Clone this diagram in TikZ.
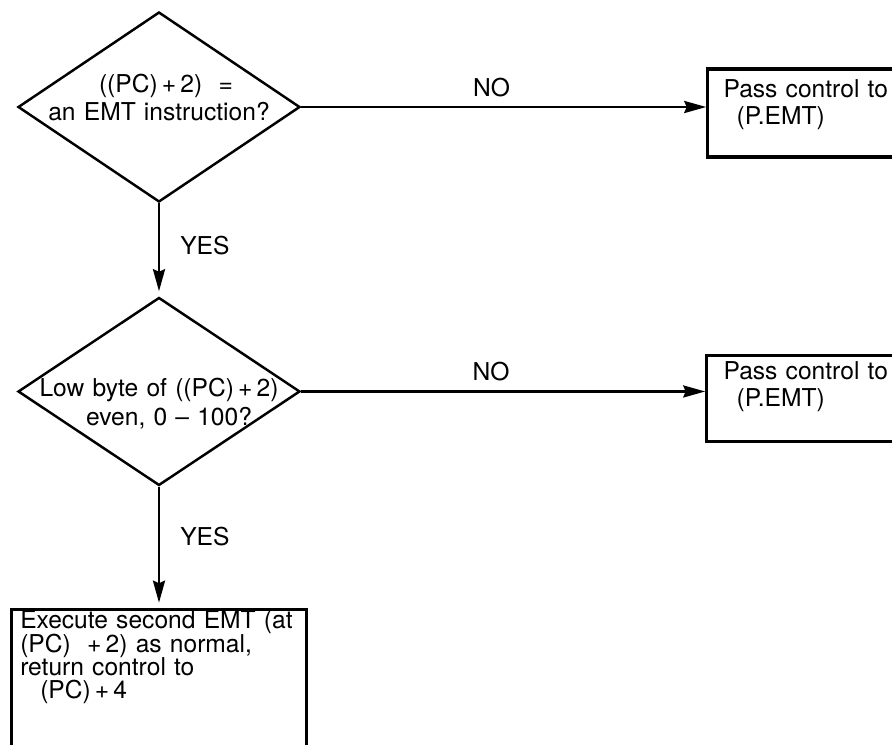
\documentclass[tikz,border=0pt]{standalone}
\usepackage{fontspec}
\setmainfont{TeX Gyre Heros}
\usepackage{tikz}
\usetikzlibrary{arrows.meta, positioning, shapes.geometric}

\begin{document}
\begin{tikzpicture}[
    decision/.style={draw, diamond, line width=1.4pt, minimum width=5.64cm, minimum height=3.8cm, inner sep=0pt},
    passbox/.style={draw, rectangle, line width=1.8pt, minimum width=4.8cm, minimum height=1.76cm, inner sep=0pt},
    leading/.style={execute at begin node={\setlength{\baselineskip}{#1}\setlength{\lineskiplimit}{-5pt}}},
    txt/.style={inner sep=0pt, font=\fontsize{14}{15.4}\selectfont, leading=15.4pt},
    boxtxt/.style={txt, align=left, anchor=north west, text width=4.4cm},
    tag/.style={inner sep=0pt, font=\fontsize{14}{15.4}\selectfont},
    line/.style={draw, -{Stealth[length=0.44cm, width=0.24cm, inset=0.05cm]}, line width=1.5pt}
]
    \useasboundingbox (0,0) rectangle (17.84,-14.88);
    \clip (0,0) rectangle (17.84,-14.88);

    \node[decision] (q1) at (3.18,-2.14) {};
    \node[decision, below=1.86cm of q1, minimum height=3.76cm] (q2) {};
    \node[passbox, below=2.42cm of q2, minimum width=5.9cm, minimum height=3.2cm] (exec) {};
    \node[passbox, right=8.1cm of q1, yshift=-0.12cm] (pass1) {};
    \node[passbox, right=8.08cm of q2, yshift=-0.14cm, minimum height=1.72cm] (pass2) {};

    \node[txt, align=center, text width=5.2cm, yshift=0.19cm] (q1txt) at (q1) {\hspace{0.28cm}((PC)\,+\,2)\ \ =\\an EMT instruction?};
    \node[txt, leading=16.4pt, align=center, text width=5.2cm, yshift=-0.24cm] (q2txt) at (q2) {Low byte of ((PC)\,+\,2)\\\hspace{0.4cm}even, 0 – 100?};
    \node[boxtxt] (pass1txt) at ([shift={(0.34,-0.226)}]pass1.north west) {Pass control to\\\hspace{0.26cm}(P.EMT)};
    \node[boxtxt] (pass2txt) at ([shift={(0.36,-0.146)}]pass2.north west) {Pass control to\\\hspace{0.26cm}(P.EMT)};
    \node[boxtxt, text width=5.7cm, leading=13.1pt] (exectxt) at ([shift={(0.2,-0.06)}]exec.north west) {Execute second EMT (at\\(PC)\ \ +\,2) as normal,\\return control to\\\hspace{0.4cm}(PC)\,+\,4};

    \draw[line] (q1.east) -- (q1.east -| pass1.west) node[tag, pos=0.47, above=0.18cm] (no1) {NO};
    \draw[line] (q2.east) -- (q2.east -| pass2.west) node[tag, pos=0.47, above=0.18cm] (no2) {NO};
    \draw[line, shorten >=0.1cm] (q1.south) -- (q2.north) node[tag, pos=0.46, right=0.4cm] (yes1) {YES};
    \draw[line, shorten >=0.1cm] (q2.south) -- (exec.north) node[tag, pos=0.41, right=0.4cm] (yes2) {YES};
\end{tikzpicture}
\end{document}
